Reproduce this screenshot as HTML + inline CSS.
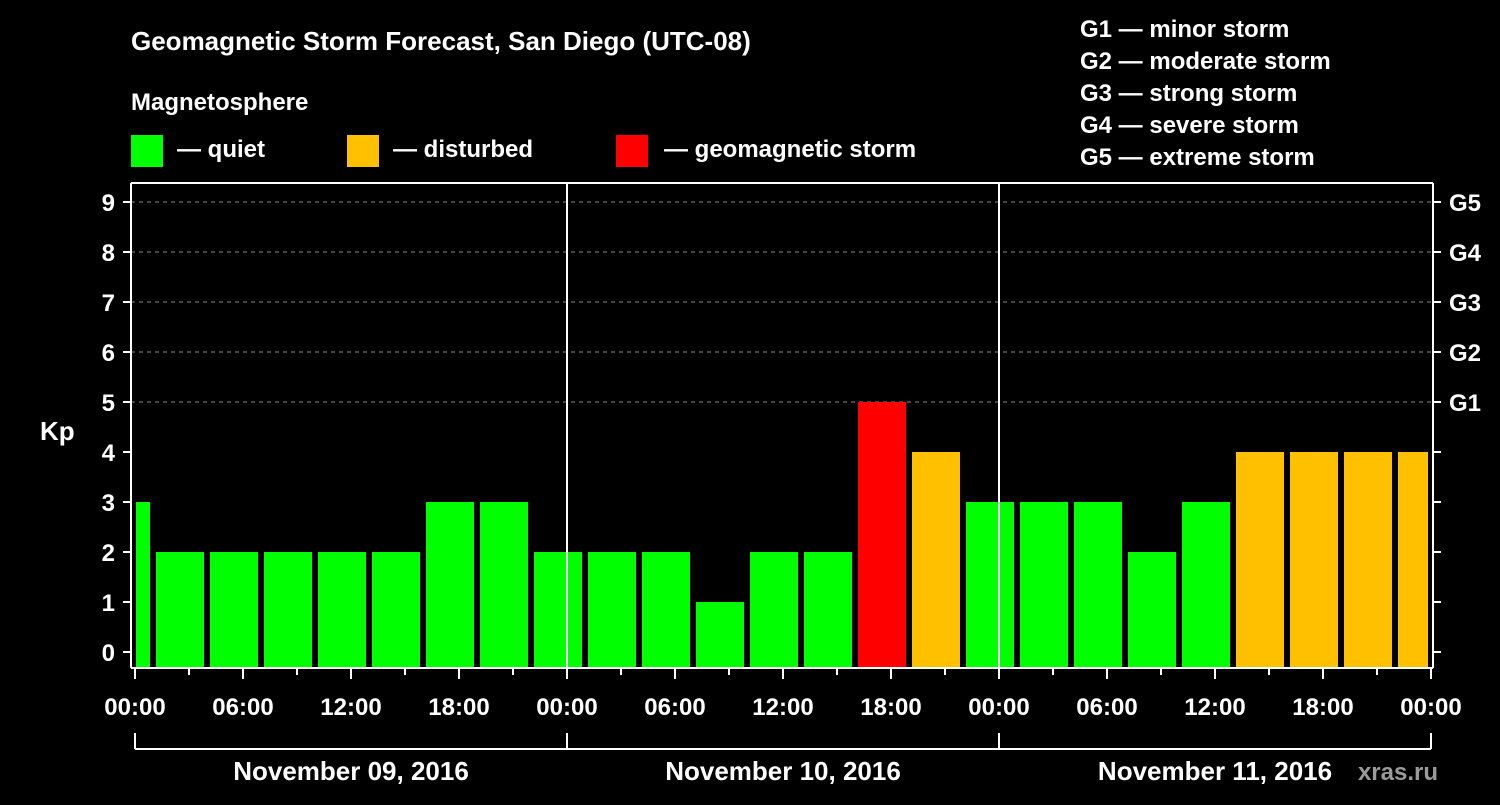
<!DOCTYPE html>
<html><head><meta charset="utf-8"><style>
body{margin:0;background:#000;width:1500px;height:800px;overflow:hidden}
svg text{font-family:"Liberation Sans",Arial,sans-serif;font-weight:bold;fill:#fff}
</style></head><body>
<svg id="c" width="1500" height="800">
<text x="131" y="50" font-size="26">Geomagnetic Storm Forecast, San Diego (UTC-08)</text>
<text x="131" y="110" font-size="24">Magnetosphere</text>
<rect x="131" y="135" width="32" height="32" fill="#00ff00"/>
<text x="177" y="157" font-size="24">— quiet</text>
<rect x="347" y="135" width="32" height="32" fill="#ffc000"/>
<text x="393" y="157" font-size="24">— disturbed</text>
<rect x="616" y="135" width="32" height="32" fill="#ff0000"/>
<text x="664" y="157" font-size="24">— geomagnetic storm</text>
<g font-size="24">
<text x="1080" y="37">G1 — minor storm</text>
<text x="1080" y="69">G2 — moderate storm</text>
<text x="1080" y="101">G3 — strong storm</text>
<text x="1080" y="133">G4 — severe storm</text>
<text x="1080" y="165">G5 — extreme storm</text>
</g>
<text x="40" y="440" font-size="26">Kp</text>
<text x="1438" y="780" font-size="24" fill="#aaa" style="fill:#9a9a9a" text-anchor="end">xras.ru</text>
<g id="grid"></g><g id="bars"></g><g id="axes"></g>
</svg>
<script>
const kpValues=[3,2,2,2,2,2,3,3,2,2,2,1,2,2,5,4,3,3,3,2,3,4,4,4,4];
const startHour=-2; // first block start relative to Nov 09 00:00 local
const dayLabels=["November 09, 2016","November 10, 2016","November 11, 2016"];
const hourLabels=["00:00","06:00","12:00","18:00"];
const gLabels=["G1","G2","G3","G4","G5"];
const NS="http://www.w3.org/2000/svg";
const X0=135,PX_H=18,Y0=652,PX_K=50,TOP=183,BOT=668,L=131,R=1433,XEND=X0+72*PX_H;
const xs=h=>X0+h*PX_H, ys=k=>Y0-k*PX_K;
function mk(p,t,a){const e=document.createElementNS(NS,t);for(const k in a)e.setAttribute(k,a[k]);document.getElementById(p).appendChild(e);return e;}
for(let k=5;k<=9;k++){const e=mk('grid','line',{x1:L,x2:R,y1:ys(k),y2:ys(k),stroke:'#888','stroke-dasharray':'4,4','stroke-width':1});

}
kpValues.forEach((v,i)=>{let a=xs(startHour+3*i)+3,b=xs(startHour+3*i+3)-3;a=Math.max(a,X0+1);b=Math.min(b,XEND-3);
const col=v>=5?'#ff0000':v>=4?'#ffc000':'#00ff00';
const e=mk('bars','rect',{x:a,y:ys(v),width:b-a,height:BOT-ys(v),fill:col});

});
const ax=(o)=>mk('axes','line',Object.assign({stroke:'#fff','stroke-width':2},o));
ax({x1:L,x2:R,y1:TOP,y2:TOP});ax({x1:L,x2:R,y1:BOT,y2:BOT});ax({x1:L,x2:L,y1:TOP,y2:BOT});ax({x1:R,x2:R,y1:TOP,y2:BOT});
for(let d=1;d<3;d++)ax({x1:xs(24*d),x2:xs(24*d),y1:TOP,y2:BOT});
for(let k=0;k<=9;k++){ax({x1:L-8,x2:L,y1:ys(k),y2:ys(k)});ax({x1:R,x2:R+8,y1:ys(k),y2:ys(k)});
const t=mk('axes','text',{x:115,y:ys(k)+9,'font-size':24,'text-anchor':'end'});t.textContent=k;

}
gLabels.forEach((g,i)=>{const t=mk('axes','text',{x:1449,y:ys(5+i)+9,'font-size':24});t.textContent=g;

});
for(let h=0;h<=72;h+=3){const maj=h%6==0;ax({x1:xs(h),x2:xs(h),y1:BOT,y2:BOT+(maj?11:7)});
if(maj){const t=mk('axes','text',{x:xs(h),y:715,'font-size':24,'text-anchor':'middle'});t.textContent=hourLabels[(h/6)%4];

}}
ax({x1:xs(0),x2:xs(72),y1:749,y2:749});
for(let d=0;d<=3;d++)ax({x1:xs(24*d),x2:xs(24*d),y1:733,y2:749});
dayLabels.forEach((s,i)=>{const t=mk('axes','text',{x:xs(24*i+12),y:780,'font-size':26,'text-anchor':'middle'});t.textContent=s;

});
</script>
</body></html>
